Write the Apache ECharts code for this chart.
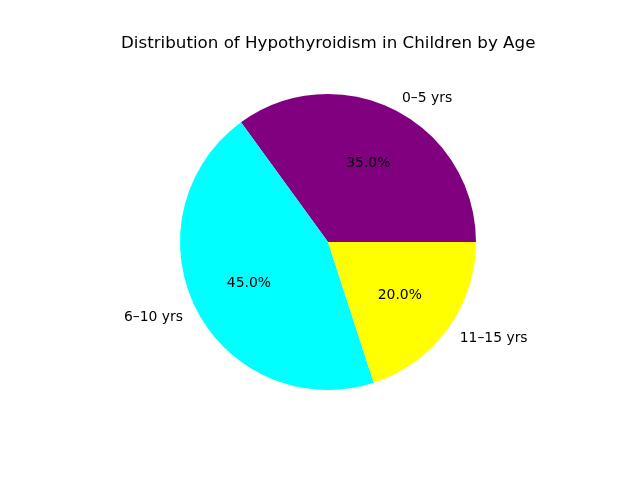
<!DOCTYPE html>
<html>
<head>
<meta charset="utf-8">
<script src="https://cdn.jsdelivr.net/npm/echarts@6/dist/echarts.min.js"></script>
<style>html,body{margin:0;padding:0;background:#fff}#c{width:640px;height:480px}</style>
</head>
<body>
<div id="c"></div>
<script>
const categories = ['0\u20135 yrs', '6\u201310 yrs', '11\u201315 yrs'];
const values = [35, 45, 20];
const colors = ['#800080', '#00FFFF', '#FFFF00'];
const titleText = 'Distribution of Hypothyroidism in Children by Age';

const R = 148;
const center = [328, 242];
const font = 'DejaVu Sans';
const total = values.reduce((a, b) => a + b, 0);

function midAngle(idx) {
  let acc = 0;
  for (let i = 0; i < idx; i++) acc += values[i];
  return (acc + values[idx] / 2) / total * 2 * Math.PI;
}
function layoutAt(frac, sideAlign) {
  return function (p) {
    const a = midAngle(p.dataIndex);
    const c = Math.cos(a), s = Math.sin(a);
    return {
      x: center[0] + frac * R * c,
      y: center[1] - frac * R * s + 1,
      align: sideAlign ? (c < 0 ? 'right' : 'left') : 'center',
      verticalAlign: 'middle'
    };
  };
}

const mainData = categories.map((c, i) => ({ name: c, value: values[i], itemStyle: { color: colors[i] } }));
const overlayData = categories.map((c, i) => ({ name: c, value: values[i] }));

const chart = echarts.init(document.getElementById('c'), null, { renderer: 'canvas' });
chart.setOption({
  animation: false,
  backgroundColor: '#ffffff',
  title: {
    text: titleText,
    left: 121,
    top: 35,
    padding: 0,
    textStyle: { fontFamily: font, fontSize: 16.7, fontWeight: 'normal', color: '#000' }
  },
  series: [
    {
      type: 'pie', center: center, radius: [0, R], startAngle: 0, clockwise: false,
      silent: true, label: { show: false }, labelLine: { show: false },
      itemStyle: { borderWidth: 0 },
      data: mainData
    },
    {
      type: 'pie', center: center, radius: [R * 0.2, R], startAngle: 0, clockwise: false,
      silent: true, labelLine: { show: false },
      itemStyle: { color: 'transparent', borderWidth: 0 },
      label: {
        show: true, position: 'inside', fontFamily: font, fontSize: 13.9, color: '#000',
        formatter: p => (p.value / total * 100).toFixed(1) + '%'
      },
      labelLayout: layoutAt(0.6, false),
      data: overlayData
    },
    {
      type: 'pie', center: center, radius: [R, R * 1.2], startAngle: 0, clockwise: false,
      silent: true, labelLine: { show: false },
      itemStyle: { color: 'transparent', borderWidth: 0 },
      label: {
        show: true, position: 'inside', fontFamily: font, fontSize: 13.9, color: '#000',
        formatter: '{b}'
      },
      labelLayout: layoutAt(1.1, true),
      data: overlayData
    }
  ]
});
</script>
</body>
</html>
